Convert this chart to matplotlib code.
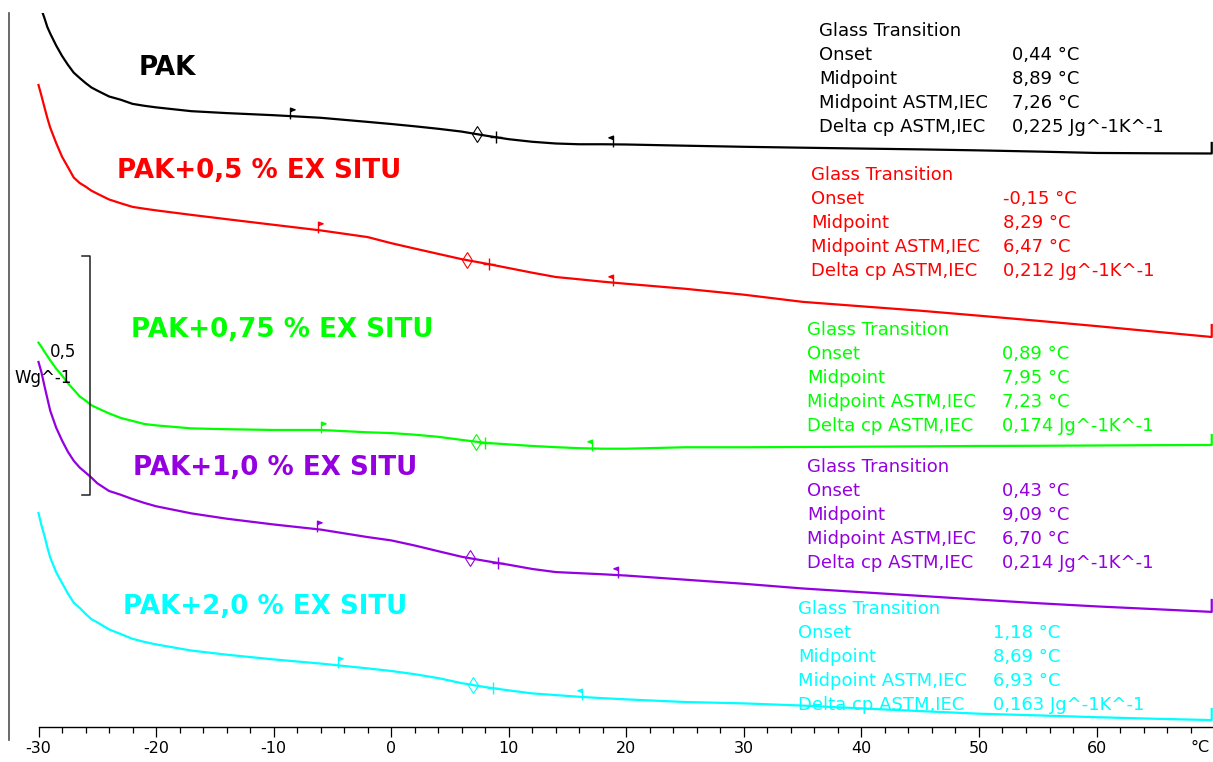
import numpy as np
import matplotlib
matplotlib.use("Agg")
import matplotlib.pyplot as plt
from matplotlib.path import Path

# temperature grid (°C) and heat flow curves (W/g, stacked as in the instrument plot)
temp_c = [-30, -29.75, -29.5, -29.25, -29, -28.5, -28, -27.5, -27, -26.5, -26, -25.5, -25,
          -24, -23, -22, -21, -20, -17, -14, -10, -6, -2, 0, 2, 4, 6, 8, 10, 12, 14, 16, 18,
          20, 25, 30, 35, 40, 45, 50, 55, 60, 65, 69.8]

hf_pak = [1.593, 1.5743, 1.5567, 1.5377, 1.5238, 1.4990, 1.4772, 1.4586, 1.4420, 1.4310,
          1.4205, 1.4111, 1.4046, 1.3923, 1.3854, 1.3768, 1.3728, 1.3695,
          1.3615, 1.3575, 1.3531, 1.3477, 1.3391, 1.3347, 1.3299, 1.3247, 1.3188, 1.3105,
          1.3029, 1.2975, 1.2939, 1.2923, 1.2923, 1.2918, 1.2893, 1.2870, 1.2851, 1.2833,
          1.2816, 1.2795, 1.2770, 1.2741, 1.2734, 1.2730]
hf_05 = [1.4163, 1.3939, 1.3703, 1.3473, 1.3268, 1.2950, 1.2663, 1.2446, 1.2226, 1.2113,
         1.2038, 1.1952, 1.1889, 1.1768, 1.1688, 1.1613, 1.1575, 1.1540,
         1.1446, 1.1356, 1.1238, 1.1121, 1.0981, 1.0854, 1.0741, 1.0630, 1.0519, 1.0429,
         1.0333, 1.0236, 1.0146, 1.0098, 1.0048, 1.0004, 0.9900, 0.9776, 0.9626, 0.9533,
         0.9441, 0.9337, 0.9230, 0.9119, 0.9002, 0.8891]
hf_075 = [0.8772, 0.8686, 0.8586, 0.8494, 0.8402, 0.8230, 0.8086, 0.7925, 0.7787, 0.7649,
          0.7561, 0.7464, 0.7404, 0.7293, 0.7197, 0.7134, 0.7071, 0.7042,
          0.6979, 0.6962, 0.6946, 0.6946, 0.6897, 0.6881, 0.6847, 0.6803, 0.6738, 0.6677,
          0.6644, 0.6611, 0.6586, 0.6565, 0.6554, 0.6554, 0.6584, 0.6584, 0.6590, 0.6596,
          0.6603, 0.6611, 0.6615, 0.6621, 0.6628, 0.6632]
hf_10 = [0.8368, 0.8153, 0.7874, 0.7609, 0.7347, 0.6996, 0.6726, 0.6490, 0.6301, 0.6161,
         0.6056, 0.5950, 0.5831, 0.5670, 0.5590, 0.5500, 0.5420, 0.5350,
         0.5201, 0.5090, 0.4969, 0.4862, 0.4705, 0.4636, 0.4529, 0.4410, 0.4293, 0.4207,
         0.4126, 0.4038, 0.3973, 0.3950, 0.3927, 0.3900, 0.3814, 0.3728, 0.3630, 0.3552,
         0.3475, 0.3397, 0.3322, 0.3255, 0.3197, 0.3140]
hf_20 = [0.5209, 0.4952, 0.4736, 0.4492, 0.4274, 0.3971, 0.3745, 0.3525, 0.3332, 0.3224,
         0.3100, 0.2987, 0.2921, 0.2774, 0.2676, 0.2577, 0.2513, 0.2460,
         0.2331, 0.2245, 0.2146, 0.2059, 0.1958, 0.1904, 0.1837, 0.1755, 0.1649, 0.1567,
         0.1498, 0.1435, 0.1400, 0.1364, 0.1335, 0.1310, 0.1255, 0.1226, 0.1180, 0.1121,
         0.1065, 0.1010, 0.0975, 0.0937, 0.0904, 0.0877]
end_hook = [1.2950, 0.9142, 0.6841, 0.3389, 0.1109]

samples = ["PAK", "PAK+0,5 % EX SITU", "PAK+0,75 % EX SITU", "PAK+1,0 % EX SITU", "PAK+2,0 % EX SITU"]
colors = ["#000000", "#ff0000", "#00ff00", "#9400e0", "#00ffff"]
curves = [hf_pak, hf_05, hf_075, hf_10, hf_20]

# evaluation limits and results (°C)
limit_left = [-8.6, -6.2, -6.0, -6.3, -4.5]
limit_right = [18.9, 18.9, 17.1, 19.3, 16.2]
onset = ["0,44", "-0,15", "0,89", "0,43", "1,18"]
midpoint = [8.89, 8.29, 7.95, 9.09, 8.69]
midpoint_astm = [7.26, 6.47, 7.23, 6.70, 6.93]
delta_cp = ["0,225", "0,212", "0,174", "0,214", "0,163"]

scale_bar = 0.5

W, H = 1213, 762
fig = plt.figure(figsize=(W / 100, H / 100), dpi=100)
ax = fig.add_axes([8.5 / W, 22 / H, (W - 8.5) / W, 727 / H])
ax.set_xlim(-32.552, 69.908)
ax.set_ylim(0.046, 1.5669)

flag_r = Path([(0, -0.35), (0, 1.0), (0.55, 0.8), (0, 0.6)])
flag_l = Path([(0, -0.35), (0, 1.0), (-0.55, 0.8), (0, 0.6)])

for i, hf in enumerate(curves):
    c = colors[i]
    ax.plot(temp_c + [temp_c[-1]], hf + [end_hook[i]], color=c, lw=1.6, solid_joinstyle="round")
    y = lambda t: np.interp(t, temp_c, hf)
    ax.plot(limit_left[i], y(limit_left[i]), marker=flag_r, ms=12, color=c, mfc=c, mew=1)
    ax.plot(limit_right[i], y(limit_right[i]), marker=flag_l, ms=12, color=c, mfc=c, mew=1)
    ax.plot(midpoint_astm[i], y(midpoint_astm[i]), marker="d", ms=8, mfc="none", mec=c, mew=0.8)
    ax.plot(midpoint[i], y(midpoint[i]), marker="+", ms=9, color=c, mew=1)

# scale bar
sb_x, sb_tick = -25.62, -26.30
sb_low = 0.5586
ax.plot([sb_tick, sb_x, sb_x, sb_tick], [sb_low + scale_bar, sb_low + scale_bar, sb_low, sb_low],
        color="#202020", lw=1.1)

# axes styling
for s in ["top", "right"]:
    ax.spines[s].set_visible(False)
ax.spines["left"].set_color("#505050")
ax.spines["left"].set_linewidth(1.2)
ax.spines["bottom"].set_position(("data", 35 / 478))
ax.spines["bottom"].set_bounds(-30, 69.8)
ax.spines["bottom"].set_linewidth(1.0)
ax.set_yticks([])
ax.set_xticks(np.arange(-30, 61, 10))
ax.set_xticks(np.arange(-28, 69, 2), minor=True)
ax.tick_params(axis="x", which="major", direction="out", length=7, width=0.9, pad=3, labelsize=11.5)
ax.tick_params(axis="x", which="minor", direction="out", length=4.5, width=0.9)
ax.set_xticklabels([str(t) for t in range(-30, 61, 10)])


def ftext(x, y, s, **kw):
    fig.text(x / W, 1 - y / H, s, **kw)


ftext(1200, 748, "°C", ha="center", va="center", fontsize=11.5)
ftext(63, 352, "0,5", ha="center", va="center", fontsize=12)
ftext(43, 378, "Wg^-1", ha="center", va="center", fontsize=12)

label_pos = [(139, 68), (117, 171), (131, 330), (133, 468), (123, 607)]
for i, name in enumerate(samples):
    ftext(label_pos[i][0], label_pos[i][1], name, color=colors[i], fontsize=18.8,
          fontweight="bold", ha="left", va="center")

table_pos = [(819, 1012, 30), (811, 1003, 174), (807, 1002, 329), (807, 1002, 466), (798, 993, 608)]
for i in range(5):
    x0, x1, y0 = table_pos[i]
    rows = [("Glass Transition", ""),
            ("Onset", onset[i] + " °C"),
            ("Midpoint", f"{midpoint[i]:.2f}".replace(".", ",") + " °C"),
            ("Midpoint ASTM,IEC", f"{midpoint_astm[i]:.2f}".replace(".", ",") + " °C"),
            ("Delta cp ASTM,IEC", delta_cp[i] + " Jg^-1K^-1")]
    for k, (lab, val) in enumerate(rows):
        yy = y0 + 24 * k + 6
        ftext(x0, yy, lab, color=colors[i], fontsize=13, ha="left", va="baseline")
        if val:
            ftext(x1, yy, val, color=colors[i], fontsize=13, ha="left", va="baseline")

fig.savefig("out.png", dpi=100)
